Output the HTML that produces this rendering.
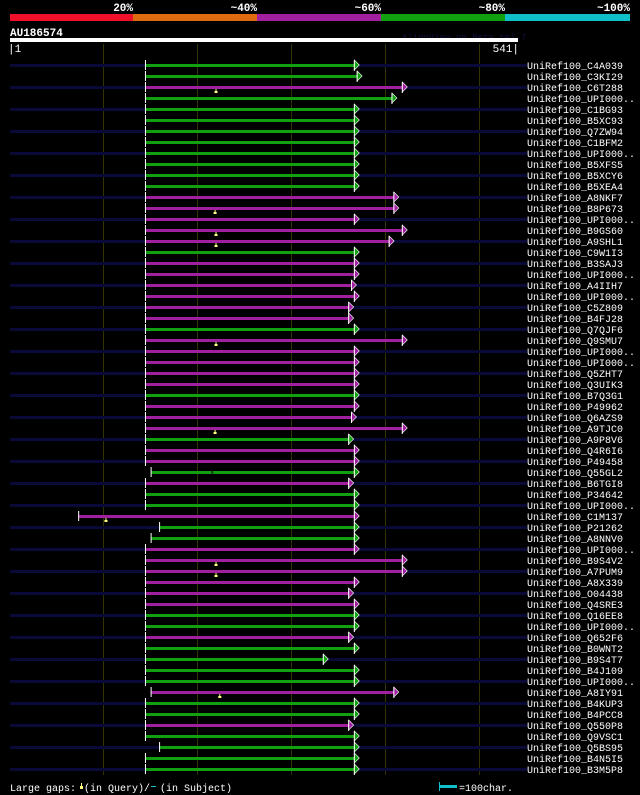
<!DOCTYPE html>
<html><head><meta charset="utf-8"><style>
html,body{margin:0;padding:0;background:#000;}
svg{display:block;}
text{font-family:"Liberation Mono","DejaVu Sans Mono",monospace;}
</style></head><body>
<svg id="chart" width="640" height="795" viewBox="0 0 640 795" xmlns="http://www.w3.org/2000/svg">
<rect x="0" y="0" width="640" height="795" fill="#000"/>
<g>
<rect x="10" y="14" width="123" height="7" fill="#f0102a"/>
<rect x="133" y="14" width="124" height="7" fill="#e06a10"/>
<rect x="257" y="14" width="124" height="7" fill="#a020a0"/>
<rect x="381" y="14" width="124" height="7" fill="#10a010"/>
<rect x="505" y="14" width="125" height="7" fill="#10c0c8"/>
<text x="133" y="11" fill="#fff" font-size="11" font-weight="bold" text-anchor="end">20%</text>
<text x="257" y="11" fill="#fff" font-size="11" font-weight="bold" text-anchor="end">~40%</text>
<text x="381" y="11" fill="#fff" font-size="11" font-weight="bold" text-anchor="end">~60%</text>
<text x="505" y="11" fill="#fff" font-size="11" font-weight="bold" text-anchor="end">~80%</text>
<text x="630" y="11" fill="#fff" font-size="11" font-weight="bold" text-anchor="end">~100%</text>
</g>
<text x="10" y="36" fill="#fff" font-size="11" font-weight="bold">AU186574</text>
<text x="402" y="40" fill="#101040" font-size="9">AlignView.pm Beta rel.7</text>
<rect x="10" y="38" width="508" height="4" fill="#fff"/>
<text x="8" y="52" fill="#fff" font-size="11">|1</text>
<text x="519" y="52" fill="#fff" font-size="11" text-anchor="end">541|</text>
<g id="grid"></g>
<g id="rows"></g>
<g>
<text x="10" y="791" fill="#fff" font-size="10">Large gaps:</text>
<rect x="80" y="786" width="3" height="3" fill="#ffff80"/><rect x="81" y="783" width="1" height="3" fill="#ffff80"/>
<text x="84" y="791" fill="#fff" font-size="10">(in Query)/</text>
<rect x="151" y="786" width="5" height="1" fill="#10c0c8"/>
<text x="160" y="791" fill="#fff" font-size="10">(in Subject)</text>
<rect x="439" y="785" width="18" height="3" fill="#10c0c8"/>
<rect x="439" y="782" width="1" height="9" fill="#10c0c8"/>
<text x="459" y="791" fill="#fff" font-size="10">=100char.</text>
</g>
</svg>
<script>
const labels=["C4A039","C3KI29","C6T288","UPI000..","C1BG93","B5XC93","Q7ZW94","C1BFM2","UPI000..","B5XFS5","B5XCY6","B5XEA4","A8NKF7","B8P673","UPI000..","B9GS60","A9SHL1","C9W1I3","B3SAJ3","UPI000..","A4IIH7","UPI000..","C5Z809","B4FJ28","Q7QJF6","Q9SMU7","UPI000..","UPI000..","Q5ZHT7","Q3UIK3","B7Q3G1","P49962","Q6AZS9","A9TJC0","A9P8V6","Q4R6I6","P49458","Q55GL2","B6TGI8","P34642","UPI000..","C1M137","P21262","A8NNV0","UPI000..","B9S4V2","A7PUM9","A8X339","O04438","Q4SRE3","Q16EE8","UPI000..","Q652F6","B0WNT2","B9S4T7","B4J109","UPI000..","A8IY91","B4KUP3","B4PCC8","Q550P8","Q9VSC1","Q5BS95","B4N5I5","B3M5P8"];
const starts=[145,145,145,145,145,145,145,145,145,145,145,145,145,145,145,145,145,145,145,145,145,145,145,145,145,145,145,145,145,145,145,145,145,145,145,145,145,151,145,145,145,74,160,151,145,145,145,145,145,145,145,145,145,145,145,145,145,151,145,145,145,145,160,145,145];
const ends=[367,370,418,407,367,367,367,367,367,367,367,367,409,409,367,418,404,367,367,367,364,367,361,361,367,418,367,367,367,367,367,367,364,418,361,367,367,367,361,367,367,367,367,367,367,418,418,367,361,367,367,367,361,367,334,367,367,409,367,367,361,367,367,367,367];
const colors=["g","g","m","g","g","g","g","g","g","g","g","g","m","m","m","m","m","g","m","m","m","m","m","m","g","m","m","m","m","m","g","m","m","m","g","m","m","g","m","g","g","m","g","g","m","m","m","m","m","m","g","g","m","g","g","g","g","m","g","g","m","g","g","g","g"];
const queryGaps=[[3,220],[14,219],[16,220],[17,220],[26,220],[34,219],[42,103],[46,220],[47,220],[58,224]];
const subjectGaps=[[38,216]];
const QLEN=541;
const gridTicks=[100,200,300,400,500];
const NS="http://www.w3.org/2000/svg";
function xS(r){return 10+(r-1)*508/(QLEN-1);}
function yS(i){return 65+i*11;}
function mk(tag,attrs,parent){const e=document.createElementNS(NS,tag);for(const k in attrs)e.setAttribute(k,attrs[k]);parent.appendChild(e);return e;}
const grid=document.getElementById('grid'),rows=document.getElementById('rows');
gridTicks.forEach(t=>{
 const l=mk('rect',{x:Math.round(xS(t)),y:44,width:1,height:731,fill:'#333300'},grid);
 
 
});
const col={g:'#10a010',m:'#a020a0'};
labels.forEach((lab,i)=>{
 const y=yS(i);
 const g=mk('g',{},rows);
 
 
 if(i%2===0){mk('rect',{x:10,y:y-1,width:517,height:3,fill:'#0a0a38'},g);}
 const x0=xS(starts[i]),x1=xS(ends[i]);
 const bar=mk('rect',{x:x0,y:y-1,width:x1-x0,height:3,fill:col[colors[i]]},g);
 
 
 mk('rect',{x:x0-0.5,y:y-5,width:1,height:10,fill:'#fff'},g);
 mk('polygon',{points:`${x1},${y-5} ${x1+5},${y} ${x1},${y+5}`,fill:col[colors[i]],stroke:'#fff','stroke-width':0.6},g);
 mk('rect',{x:x1-0.5,y:y-5,width:1,height:11,fill:'#fff'},g);
 const t=mk('text',{x:527,y:y+4,fill:'#fff','font-size':10},g);
 t.textContent='UniRef100_'+lab;
 
 
});
queryGaps.forEach(([r,p])=>{
 const y=yS(r-1),x=xS(p);
 const m=mk('g',{},rows);
 
 
 mk('rect',{x:x-0.5,y:y+2,width:1,height:3,fill:'#ffff80'},m);
 mk('rect',{x:x-1.5,y:y+4,width:3,height:2,fill:'#ffff80'},m);
});
subjectGaps.forEach(([r,p])=>{
 const y=yS(r-1),x=xS(p);
 const m=mk('rect',{x:x-1,y:y-1,width:2,height:3,fill:'#104010'},rows);
 
 
});
</script>
</body></html>
